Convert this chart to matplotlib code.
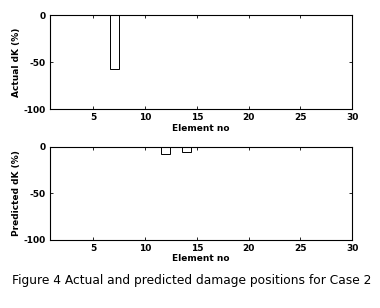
import numpy as np
import matplotlib
matplotlib.use('Agg')
import matplotlib.pyplot as plt

plt.rcParams['axes.unicode_minus'] = False
plt.rcParams['font.family'] = ['DejaVu Sans']

elements = np.arange(1, 31)
actual_dk = np.zeros(30)
actual_dk[6] = -57
predicted_dk = np.zeros(30)
predicted_dk[11] = -8
predicted_dk[13] = -5

x_ticks = [5, 10, 15, 20, 25, 30]
y_ticks = [0, -50, -100]

fig = plt.figure(figsize=(3.8, 3.08), dpi=100)
ax1 = fig.add_axes([0.1316, 0.646, 0.795, 0.305])
ax2 = fig.add_axes([0.1316, 0.221, 0.795, 0.302])

for ax, vals, ylab in [(ax1, actual_dk, 'Actual dK (%)'), (ax2, predicted_dk, 'Predicted dK (%)')]:
    ax.bar(elements, vals, width=0.85, facecolor='white', edgecolor='black', linewidth=0.7)
    ax.set_xlim(0.8, 30)
    ax.set_ylim(-100, 0)
    ax.set_xticks(x_ticks)
    ax.set_yticks(y_ticks)
    ax.tick_params(direction='in', top=True, right=True, length=2, width=0.6, labelsize=6.5, pad=3)
    for lab in ax.get_xticklabels() + ax.get_yticklabels():
        lab.set_fontweight('bold')
    ax.set_xlabel('Element no', fontsize=6.5, fontweight='bold', labelpad=1)
    ax.set_ylabel(ylab, fontsize=6.5, fontweight='bold', labelpad=2)
    for s in ax.spines.values():
        s.set_linewidth(0.8)

fig.text(0.505, 0.09, 'Figure 4 Actual and predicted damage positions for Case 2',
         ha='center', va='center', fontsize=8.8)
fig.savefig('out.png', dpi=100)
